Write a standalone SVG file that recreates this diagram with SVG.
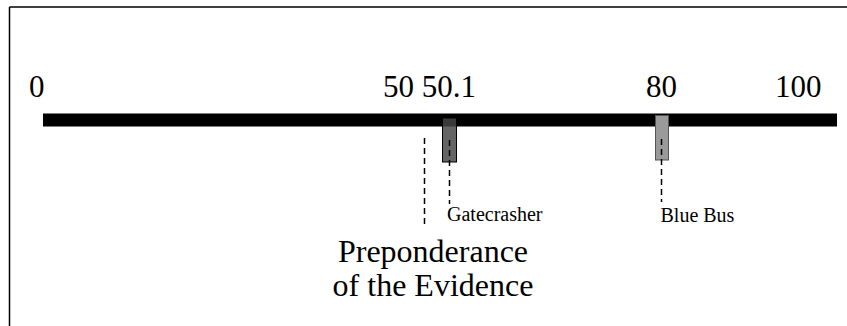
<svg xmlns="http://www.w3.org/2000/svg" width="847" height="326" viewBox="0 0 847 326">
<style>
  .num { font-family: "Liberation Serif", "Times New Roman", serif; font-size: 31px; fill: #000; }
  .lbl { font-family: "Liberation Serif", "Times New Roman", serif; font-size: 20px; fill: #000; }
  .big { font-family: "Liberation Serif", "Times New Roman", serif; font-size: 32px; fill: #000; text-anchor: middle; }
  .dash { stroke: #000; stroke-width: 1.5; stroke-dasharray: 6 4; fill: none; }
</style>
<rect x="0" y="0" width="847" height="326" fill="#fff"/>
<g id="frame">
  <line x1="9.5" y1="7" x2="847" y2="7" stroke="#000" stroke-width="1.5"/>
  <line x1="9.5" y1="7" x2="9.5" y2="326" stroke="#000" stroke-width="1.5"/>
</g>
<g id="axis">
  <rect x="43" y="113.5" width="794" height="13" fill="#000"/>
  <text class="num" x="29" y="97">0</text>
  <text class="num" x="383" y="97">50 50.1</text>
  <text class="num" x="646" y="97">80</text>
  <text class="num" x="775" y="97">100</text>
</g>
<g id="gatecrasher">
  <rect x="442.5" y="118" width="14" height="44" fill="#464646" fill-opacity="0.83" stroke="#000" stroke-width="1"/>
  <text class="lbl" x="447" y="221">Gatecrasher</text>
</g>
<g id="bluebus">
  <rect x="655.5" y="115.5" width="13" height="44.5" fill="#9a9a9a" stroke="#555" stroke-width="1"/>
  <text class="lbl" x="660.5" y="221.5">Blue Bus</text>
</g>
<g id="preponderance">
  <text class="big" x="433" y="262">Preponderance</text>
  <text class="big" x="433" y="296">of the Evidence</text>
</g>
<g id="connectors">
  <line class="dash" x1="424.5" y1="138" x2="424.5" y2="227"/>
  <line class="dash" x1="449.5" y1="140" x2="449.5" y2="204"/>
  <line class="dash" x1="661.5" y1="139" x2="661.5" y2="202"/>
</g>
</svg>
